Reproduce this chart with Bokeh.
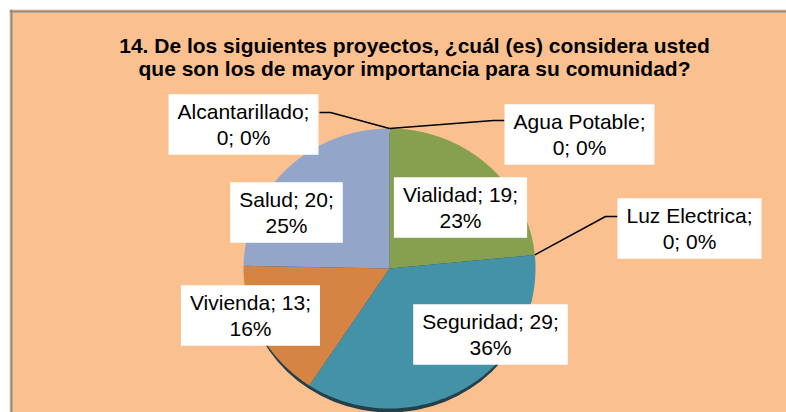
import numpy as np
from bokeh.plotting import figure
from bokeh.models import ColumnDataSource, Range1d, Span
from bokeh.core.properties import value
from bokeh.embed import file_html
from bokeh.resources import INLINE

# ---- data ----
title_lines = ["14. De los siguientes proyectos, ¿cuál (es) considera usted",
               "que son los de mayor importancia para su comunidad?"]
categories = ["Agua Potable", "Vialidad", "Luz Electrica", "Seguridad",
              "Vivienda", "Salud", "Alcantarillado"]
counts = [0, 19, 0, 29, 13, 20, 0]

# ---- styles / layout ----
colors = ["#4F81BD", "#86A04F", "#B9CD96", "#4392A8", "#D68443", "#93A6CA", "#7F7F7F"]
BG = "#FAC090"
CX, CY, RX, RY = 389, 268, 146, 140          # pie centre / radii (page px)
label_pos_x = [579, 460, 689, 490, 250, 286, 243]
label_pos_y = [134, 207, 228, 334, 315, 212, 124]
# leader line box-side anchors for zero slices (elbow + box edge)
leader_box = {"Agua Potable": [(493, 120), (504, 120)],
              "Luz Electrica": [(605, 216), (617, 216)],
              "Alcantarillado": [(330, 112), (319, 112)]}

total = float(sum(counts))
pcts = [round(100 * c / total) for c in counts]
texts = []
for name, c, pc in zip(categories, counts, pcts):
    if c == 0:
        texts.append(f"{name};\n{c}; {pc}%")
    else:
        texts.append(f"{name}; {c};\n{pc}%")

fracs = np.array(counts, dtype=float) / total
ends = np.cumsum(fracs) * 2 * np.pi
starts = ends - fracs * 2 * np.pi

p = figure(width=786, height=412, output_backend="svg", toolbar_location=None,
           x_range=Range1d(9, 786), y_range=Range1d(412, 9),
           x_axis_location=None, y_axis_location=None,
           min_border=0, min_border_left=9, min_border_top=9)
p.grid.visible = False
p.outline_line_color = None
p.background_fill_color = BG
p.border_fill_color = "white"

p.add_layout(Span(location=11, dimension="height", line_color="#8C8C8C", line_width=2))
p.add_layout(Span(location=11, dimension="width", line_color="#8C8C8C", line_width=2))

# shadow (3D rim)
p.ellipse(x=[CX], y=[CY + 4], width=[2 * RX - 2], height=[2 * RY],
          fill_color="#23404A", line_color=None)

xs, ys, fc = [], [], []
for s, e, c, col in zip(starts, ends, counts, colors):
    if c == 0:
        continue
    t = np.linspace(s, e, 120)
    xs.append(np.concatenate([[CX], CX + RX * np.sin(t)]).tolist())
    ys.append(np.concatenate([[CY], CY - RY * np.cos(t)]).tolist())
    fc.append(col)
p.patches(xs=xs, ys=ys, fill_color=fc, line_color=None)

# leader lines for zero slices
for name, s, c in zip(categories, starts, counts):
    if c == 0 and name in leader_box:
        ax = CX + RX * np.sin(s)
        ay = CY - RY * np.cos(s)
        pts = [(ax, ay)] + leader_box[name]
        p.line(x=[q[0] for q in pts], y=[q[1] for q in pts],
               line_color="black", line_width=1.5)

src = ColumnDataSource(dict(x=label_pos_x, y=label_pos_y, text=texts))
p.text(x="x", y="y", text="text", source=src, text_align="center",
       text_baseline="middle", text_font=value("Liberation Sans"),
       text_font_size="21px", text_color="black", text_line_height=1.1,
       background_fill_color="white", padding=(9, 6))

p.text(x=[414, 414], y=[45, 68], text=title_lines, text_align="center",
       text_baseline="alphabetic", text_font=value("Liberation Sans"),
       text_font_style="bold", text_font_size="21px", text_color="black")

open("out.html", "w").write(file_html(p, INLINE))
